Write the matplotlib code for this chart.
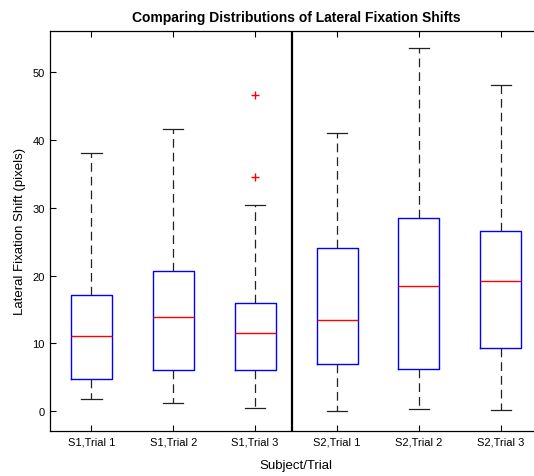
import matplotlib
matplotlib.use("Agg")
import matplotlib.pyplot as plt

labels = ["S1,Trial 1", "S1,Trial 2", "S1,Trial 3", "S2,Trial 1", "S2,Trial 2", "S2,Trial 3"]
whisker_low = [1.76, 1.22, 0.53, 0.0, 0.39, 0.19]
q1 = [4.76, 6.04, 6.04, 6.97, 6.23, 9.28]
median = [11.1, 13.9, 11.5, 13.5, 18.4, 19.2]
q3 = [17.1, 20.7, 15.96, 24.0, 28.5, 26.6]
whisker_high = [38.1, 41.6, 30.4, 40.97, 53.5, 48.1]
outliers = [[], [], [34.5, 46.6], [], [], []]

plt.rcParams['font.family'] = ['Liberation Sans', 'DejaVu Sans']

fig = plt.figure(figsize=(5.34, 4.77), dpi=100)
ax = fig.add_axes([50.4 / 534, (477 - 431.7) / 477, 491.4 / 534, 400 / 477])

stats = []
for i in range(len(labels)):
    stats.append(dict(med=median[i], q1=q1[i], q3=q3[i], whislo=whisker_low[i],
                      whishi=whisker_high[i], fliers=outliers[i], label=labels[i]))

ax.bxp(stats, positions=range(1, 7), widths=0.5, showfliers=True,
       boxprops=dict(color='blue', linewidth=1.0),
       medianprops=dict(color='red', linewidth=1.0),
       whiskerprops=dict(color='#222222', linewidth=0.9, linestyle=(0, (7, 4))),
       capprops=dict(color='#222222', linewidth=0.9),
       flierprops=dict(marker='+', markeredgecolor='red', markersize=6, markeredgewidth=1.0,
                       linestyle='none'))

ax.axvline(3.45, color='black', linewidth=1.6)

ax.set_xlim(0.5, 6.5)
ax.set_ylim(-2.86, 56.1)
ax.set_yticks([0, 10, 20, 30, 40, 50])
ax.set_xticks(range(1, 7))
ax.set_xticklabels(labels)
ax.tick_params(direction='in', length=4, top=True, right=False, labelsize=8, width=0.8, pad=4)
for s in ax.spines.values():
    s.set_linewidth(0.9)
ax.spines['right'].set_visible(False)

ax.set_title("Comparing Distributions of Lateral Fixation Shifts", fontsize=10, fontweight='bold', pad=7)
ax.set_xlabel("Subject/Trial", fontsize=9.5, labelpad=9)
ax.set_ylabel("Lateral Fixation Shift (pixels)", fontsize=9.5, labelpad=5)

fig.savefig("out.png", dpi=100)
